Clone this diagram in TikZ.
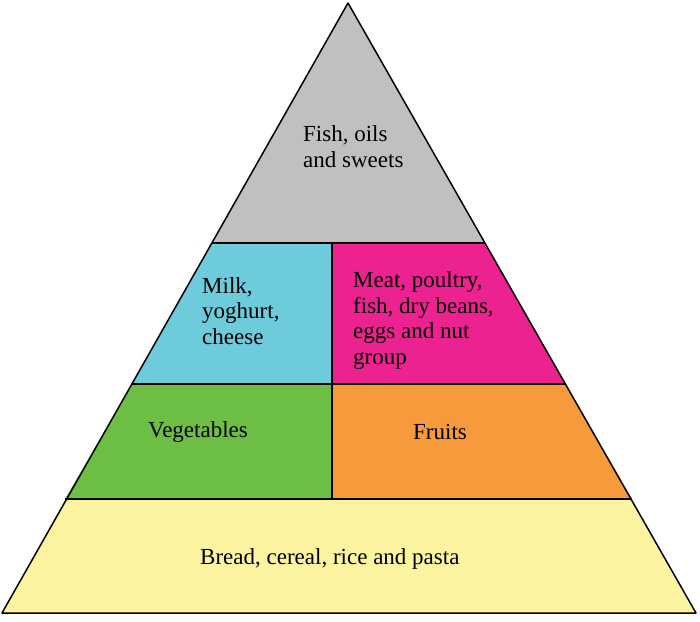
\documentclass[tikz,border=0pt]{standalone}
\usepackage{fontspec}
\setmainfont{Liberation Serif}
\definecolor{topgray}{HTML}{C0C0C0}
\definecolor{milkblue}{HTML}{6DCBDC}
\definecolor{meatpink}{HTML}{EC2290}
\definecolor{veggreen}{HTML}{6CBE45}
\definecolor{fruitorange}{HTML}{F79A3B}
\definecolor{breadyellow}{HTML}{FBF3A0}
\tikzset{
  band/.style={draw=black, line width=1.5pt, line join=round},
  lbl/.style={font=\fontsize{23}{25.5}\selectfont, align=left, inner sep=0pt, anchor=base west, text=black},
}
\begin{document}
\begin{tikzpicture}[x=1pt,y=-1pt]
\useasboundingbox (0,0) rectangle (700,621);
% corner coordinates
\coordinate (apex) at (348,3);
\coordinate (l1) at (212,243); \coordinate (m1) at (332,243); \coordinate (r1) at (485,243);
\coordinate (l2) at (132,384); \coordinate (m2) at (332,384); \coordinate (r2) at (566,384);
\coordinate (l3) at (65,499);  \coordinate (m3) at (332,499); \coordinate (r3) at (632,499);
\coordinate (l4) at (2,613);   \coordinate (r4) at (696,613);
% bands
\fill[breadyellow] (l3) -- (r3) -- (r4) -- (l4) -- cycle;
\fill[veggreen] (l2) -- (m2) -- (m3) -- (l3) -- cycle;
\fill[fruitorange] (m2) -- (r2) -- (r3) -- (m3) -- cycle;
\fill[milkblue] (l1) -- (m1) -- (m2) -- (l2) -- cycle;
\fill[meatpink] (m1) -- (r1) -- (r2) -- (m2) -- cycle;
\fill[topgray] (apex) -- (r1) -- (l1) -- cycle;
\draw[band] (apex) -- (l4) -- (r4) -- cycle;
\draw[band] (l1) -- (r1);
\draw[band] (l2) -- (r2);
\draw[band] (l3) -- (r3);
\draw[band] (m1) -- (m3);
% labels (anchor = baseline of the last line)
\node[lbl] (fish) at (303,167) {Fish, oils\\and sweets};
\node[lbl] (milk) at (202,344) {Milk,\\yoghurt,\\cheese};
\node[lbl] (meat) at (353,364) {Meat, poultry,\\fish, dry beans,\\eggs and nut\\group};
\node[lbl] (veg) at (148,437) {Vegetables};
\node[lbl] (fruit) at (413,439) {Fruits};
\node[lbl] (bread) at (200,564) {Bread, cereal, rice and pasta};
\end{tikzpicture}
\end{document}
